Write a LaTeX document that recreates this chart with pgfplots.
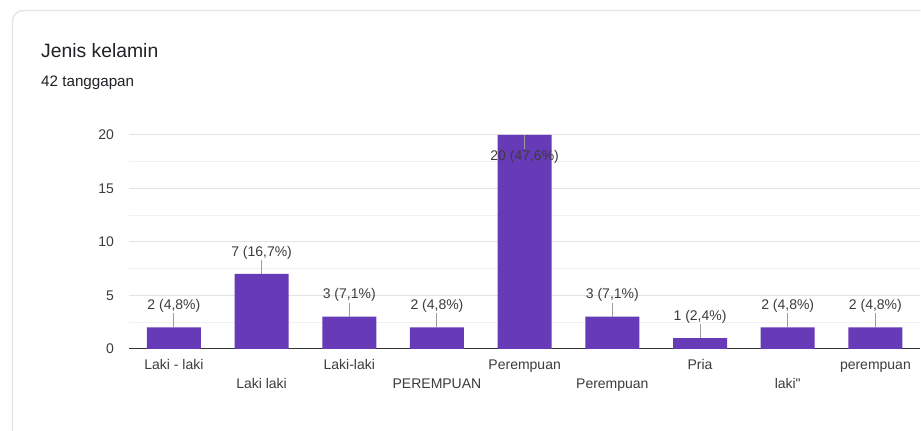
\documentclass[border=0pt]{standalone}
\usepackage{fontspec}
\setmainfont{Liberation Sans}
\newfontfamily\nomap[Ligatures=ResetAll]{Liberation Sans}
\usepackage{pgfplots}
\usepackage{pgfplotstable}
\pgfplotsset{compat=1.18}
\definecolor{barc}{HTML}{673AB7}
\definecolor{txt}{HTML}{3C3C3C}
\definecolor{ttl}{HTML}{202124}
\definecolor{gridmaj}{HTML}{E2E2E2}
\definecolor{gridmin}{HTML}{F1F1F1}
\definecolor{cardb}{HTML}{E3E2EA}
\definecolor{lead}{HTML}{9E9E9E}
\definecolor{axisc}{HTML}{333333}

\pgfplotstableread[col sep=semicolon]{
x;y;ep;em;ly;lab
0;2;1.3;0;4.0;2 (4,8\%)
1;7;1.3;0;9.0;7 (16,7\%)
2;3;1.3;0;5.0;3 (7,1\%)
3;2;1.3;0;4.0;2 (4,8\%)
4;20;0;1.3;17.92;20 (47,6\%)
5;3;1.3;0;5.0;3 (7,1\%)
6;1;1.3;0;3.0;1 (2,4\%)
7;2;1.3;0;4.0;2 (4,8\%)
8;2;1.3;0;4.0;2 (4,8\%)
}\datatable

\begin{document}
\begin{tikzpicture}
\begin{scope}[x=0.75pt,y=-0.75pt]
\path[use as bounding box] (0,0) rectangle (921,431);
\clip (0,0) rectangle (921,431);
\fill[white] (0,0) rectangle (921,431);
\draw[cardb, line width=1pt, rounded corners=8pt, fill=white] (12.5,10.5) rectangle (960,470);
\node[anchor=base west, font=\fontsize{14.5}{17}\selectfont, text=ttl, inner sep=0pt] at (41,58) {Jenis kelamin};
\node[anchor=base west, font=\fontsize{11.4}{14}\selectfont, text=ttl, inner sep=0pt] at (41,87) {42 tanggapan};
\end{scope}
\begin{axis}[
  at={(96.75pt,-261.75pt)}, anchor=south west,
  scale only axis, width=594pt, height=160.5pt,
  xmin=-0.513, xmax=8.513, ymin=0, ymax=20,
  ytick={5,10,15,20}, minor ytick={2.5,7.5,12.5,17.5},
  extra y ticks={0}, extra y tick labels={0},
  extra y tick style={grid=major, major grid style={draw=axisc, line width=0.9pt}},
  ymajorgrids, yminorgrids,
  major grid style={draw=gridmaj, line width=0.75pt},
  minor grid style={draw=gridmin, line width=0.75pt},
  axis line style={draw=none},
  major tick length=0pt, minor tick length=0pt,
  xtick={0,...,8},
  xticklabels={Laki - laki, \raisebox{-14.25pt}{Laki laki}, Laki-laki, \raisebox{-14.25pt}{PEREMPUAN}, Perempuan, \raisebox{-14.25pt}{Perempuan}, Pria, \raisebox{-14.25pt}{\nomap laki"}, perempuan},
  tick label style={font=\fontsize{10.5}{12}\selectfont, text=txt},
  /pgf/number format/assume math mode=true,
  yticklabel style={inner sep=0pt, xshift=-11pt},
  xticklabel style={inner sep=0pt, anchor=north, text height=8pt, yshift=-7pt},
]
\addplot[ybar, bar width=40.5pt, fill=barc, draw=none,
  error bars/.cd, y dir=both, y explicit, error mark=none,
  error bar style={draw=lead, line width=0.75pt}]
  table[x=x, y=y, y error plus=ep, y error minus=em]{\datatable};
\addplot[draw=none, mark=none, nodes near coords, point meta=explicit symbolic,
  every node near coord/.append style={font=\fontsize{10.5}{12}\selectfont, text=txt, anchor=center, inner sep=0pt}]
  table[x=x, y=ly, meta=lab]{\datatable};
\end{axis}
\end{tikzpicture}
\end{document}
